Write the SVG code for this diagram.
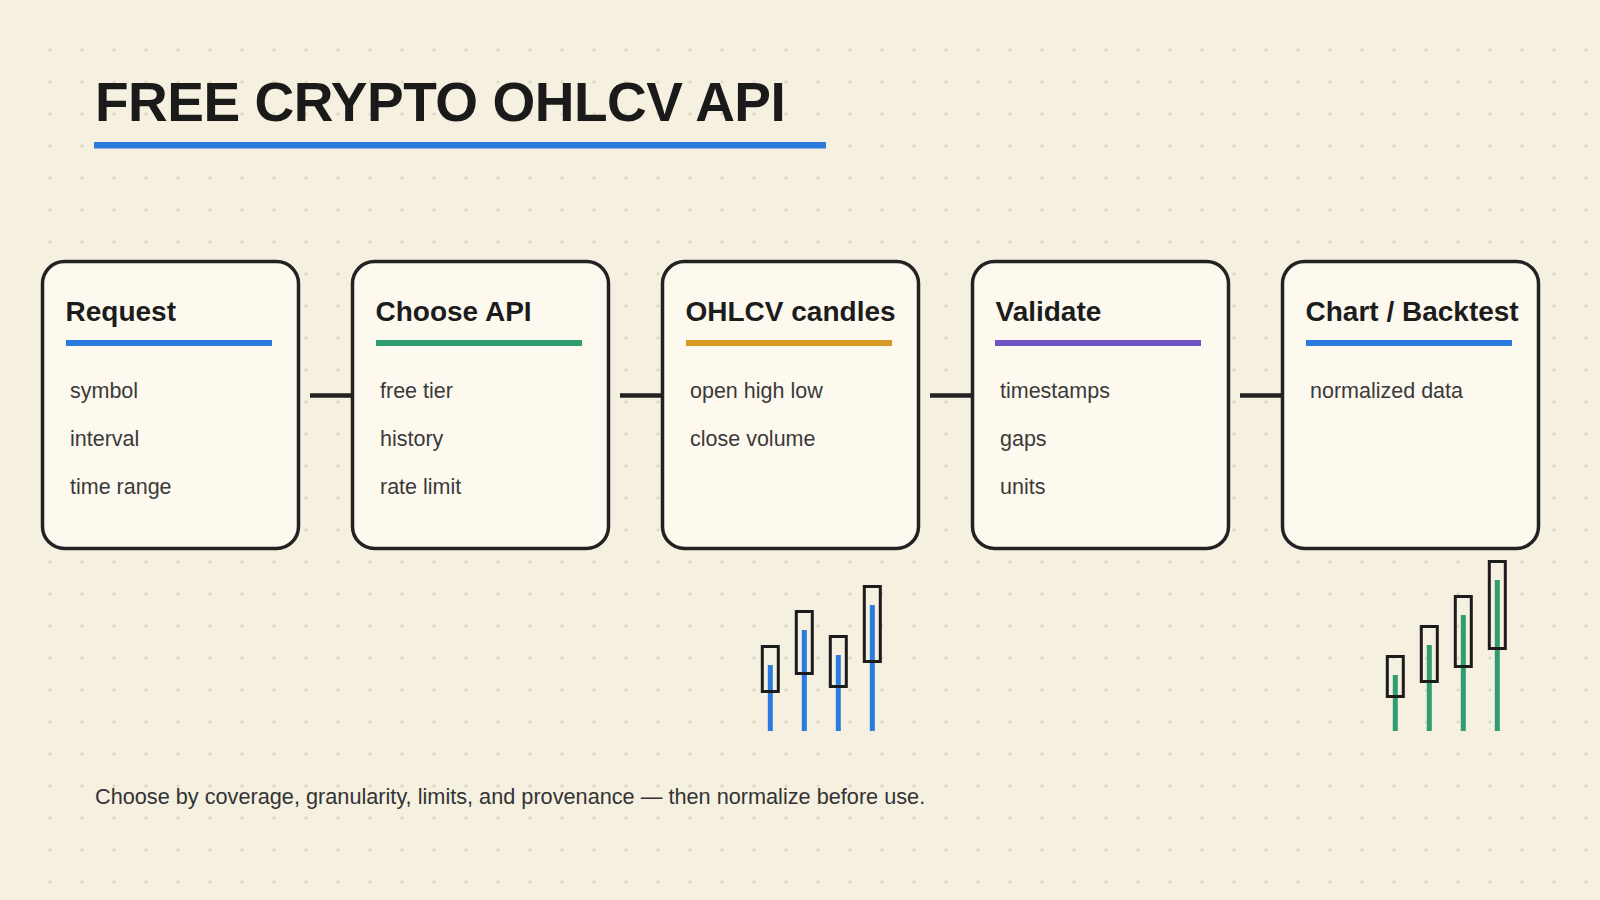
<svg xmlns="http://www.w3.org/2000/svg" width="1600" height="900" viewBox="0 0 1600 900">
<defs>
<pattern id="grid" patternUnits="userSpaceOnUse" x="34" y="34" width="32" height="32">
<path d="M14.3 16h3.4M16 14.3v3.4" stroke="#d8d1bf" stroke-width="1"/>
</pattern>
</defs>
<style>
.title{font-family:"Liberation Sans",Arial,sans-serif;font-weight:700;font-size:55px;fill:#1a1a1a;letter-spacing:-0.5px}
.card{fill:#fdf9ee;stroke:#222;stroke-width:3.5}
.head{font-family:"Liberation Sans",Arial,sans-serif;font-weight:700;font-size:28px;fill:#1c1c1c}
.body{font-family:"Liberation Sans",Arial,sans-serif;font-size:21.5px;fill:#3a3a3a}
.foot{font-family:"Liberation Sans",Arial,sans-serif;font-size:21.7px;fill:#333}
.conn{stroke:#222;stroke-width:4.5;fill:none}
.cbody{fill:none;stroke:#1c1c1c;stroke-width:3}
.wb{fill:#2b7bde}
.wg{fill:#2f9d70}
</style>
<rect width="1600" height="900" fill="#f5f0e0"/>
<rect x="34" y="34" width="1566" height="866" fill="url(#grid)"/>

<g id="title">
<text class="title" x="95" y="121">FREE CRYPTO OHLCV API</text>
<rect x="94" y="142" width="732" height="6.5" fill="#2b7bde"/>
</g>

<g id="connectors">
<line class="conn" x1="310" y1="395.5" x2="352" y2="395.5"/>
<line class="conn" x1="620" y1="395.5" x2="662" y2="395.5"/>
<line class="conn" x1="930" y1="395.5" x2="972" y2="395.5"/>
<line class="conn" x1="1240" y1="395.5" x2="1282" y2="395.5"/>
</g>

<g id="node-request">
<rect class="card" x="42.5" y="261.5" width="256" height="287" rx="22"/>
<text class="head" x="65.5" y="321">Request</text>
<rect x="66" y="340" width="206" height="6" fill="#2b7bde"/>
<text class="body" x="70" y="398">symbol</text>
<text class="body" x="70" y="446">interval</text>
<text class="body" x="70" y="494">time range</text>
</g>

<g id="node-choose-api">
<rect class="card" x="352.5" y="261.5" width="256" height="287" rx="22"/>
<text class="head" x="375.5" y="321">Choose API</text>
<rect x="376" y="340" width="206" height="6" fill="#2f9d70"/>
<text class="body" x="380" y="398">free tier</text>
<text class="body" x="380" y="446">history</text>
<text class="body" x="380" y="494">rate limit</text>
</g>

<g id="node-ohlcv">
<rect class="card" x="662.5" y="261.5" width="256" height="287" rx="22"/>
<text class="head" x="685.5" y="321">OHLCV candles</text>
<rect x="686" y="340" width="206" height="6" fill="#d69a22"/>
<text class="body" x="690" y="398">open high low</text>
<text class="body" x="690" y="446">close volume</text>
</g>

<g id="node-validate">
<rect class="card" x="972.5" y="261.5" width="256" height="287" rx="22"/>
<text class="head" x="995.5" y="321">Validate</text>
<rect x="995" y="340" width="206" height="6" fill="#7056c4"/>
<text class="body" x="1000" y="398">timestamps</text>
<text class="body" x="1000" y="446">gaps</text>
<text class="body" x="1000" y="494">units</text>
</g>

<g id="node-chart">
<rect class="card" x="1282.5" y="261.5" width="256" height="287" rx="22"/>
<text class="head" x="1305.5" y="321">Chart / Backtest</text>
<rect x="1306" y="340" width="206" height="6" fill="#2b7bde"/>
<text class="body" x="1310" y="398">normalized data</text>
</g>

<g id="candles-blue">
<rect class="wb" x="767.8" y="665" width="5" height="66"/>
<rect class="wb" x="801.8" y="630" width="5" height="101"/>
<rect class="wb" x="835.8" y="655" width="5" height="76"/>
<rect class="wb" x="869.8" y="605" width="5" height="126"/>
<rect class="cbody" x="762.3" y="646.5" width="16" height="45"/>
<rect class="cbody" x="796.3" y="611.5" width="16" height="62"/>
<rect class="cbody" x="830.3" y="636.5" width="16" height="50"/>
<rect class="cbody" x="864.3" y="586.5" width="16" height="75"/>
</g>

<g id="candles-green">
<rect class="wg" x="1392.8" y="675" width="5" height="56"/>
<rect class="wg" x="1426.8" y="645" width="5" height="86"/>
<rect class="wg" x="1460.8" y="615" width="5" height="116"/>
<rect class="wg" x="1494.8" y="580" width="5" height="151"/>
<rect class="cbody" x="1387.3" y="656.5" width="16" height="40"/>
<rect class="cbody" x="1421.3" y="626.5" width="16" height="55"/>
<rect class="cbody" x="1455.3" y="596.5" width="16" height="70"/>
<rect class="cbody" x="1489.3" y="561.5" width="16" height="87"/>
</g>

<g id="footer">
<text class="foot" x="95" y="804">Choose by coverage, granularity, limits, and provenance — then normalize before use.</text>
</g>
</svg>
